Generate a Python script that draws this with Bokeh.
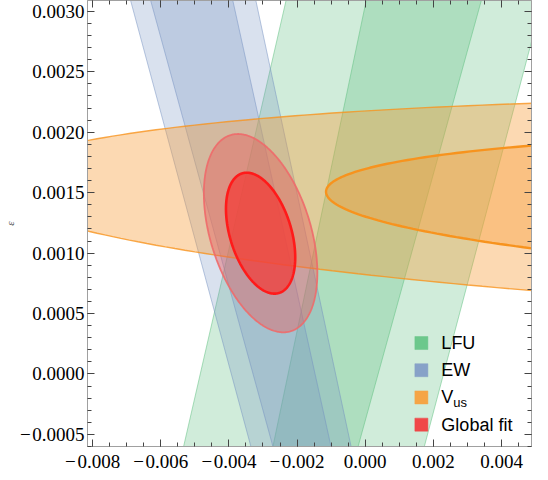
import numpy as np
from bokeh.plotting import figure
from bokeh.models import FixedTicker, CustomJSTickFormatter, LinearAxis, Range1d
from bokeh.core.properties import value
from bokeh.embed import file_html
from bokeh.resources import INLINE

# ---------------- data ----------------
x_lim = (-0.00815, 0.00488)
y_lim = (-0.0006, 0.00309)
x_major = [-0.008, -0.006, -0.004, -0.002, 0.0, 0.002, 0.004]
y_major = [-0.0005, 0.0, 0.0005, 0.0010, 0.0015, 0.0020, 0.0025, 0.0030]

# LFU band (inner 1 sigma, outer 2 sigma): x-centre at y=0, dx/dy, half width at y=0, d(halfwidth)/dy
lfu_center = [-0.000942, -0.001271]
lfu_slope = [0.861, 0.877]
lfu_halfwidth = [0.001321, 0.00357]
lfu_widthslope = [0.119, 0.0623]

# EW band
ew_center = [-0.002382, -0.002399]
ew_slope = [-0.8767, -0.857]
ew_halfwidth = [0.000910, 0.00153]
ew_widthslope = [0.0957, 0.0997]

# V_us ellipse (sheared): centre, semi-axis along x, half-height, shear dy/dx, contour scales
vus_center = [0.02145, 0.001347]
vus_axis_x = 0.0226
vus_axis_y = 0.000625
vus_shear = -0.0071
vus_levels = [1.0, 1.44]

# Global fit: gaussian mean, sigmas, correlation, delta chi^2 levels
gf_mean = [-0.00307, 0.001165]
gf_sigma = [0.00067, 0.00033]
gf_rho = -0.40
gf_dchi2 = [2.30, 6.18]

legend_labels = ["LFU", "EW", "V_us", "Global fit"]
legend_colors = ["#6cc88c", "#87a2c8", "#f5a546", "#f04848"]

# ---------------- figure ----------------
p = figure(width=540, height=474, x_range=Range1d(*x_lim), y_range=Range1d(*y_lim),
           output_backend="svg", toolbar_location=None,
           min_border_left=86, min_border_right=9, min_border_top=0, min_border_bottom=0)
p.xgrid.visible = False
p.ygrid.visible = False
p.outline_line_color = "#a0a0a0"
p.background_fill_color = "white"

t = np.linspace(0, 2 * np.pi, 400)
y_ext = np.array([y_lim[0] - 0.002, y_lim[1] + 0.002])


def band(c0, m, w0, g):
    xc = c0 + m * y_ext
    w = w0 + g * y_ext
    xs = [xc[0] - w[0], xc[1] - w[1], xc[1] + w[1], xc[0] + w[0]]
    ys = [y_ext[0], y_ext[1], y_ext[1], y_ext[0]]
    return xs, ys


def draw_band(cs, ms, ws, gs, color, alpha):
    for i in (1, 0):
        xs, ys = band(cs[i], ms[i], ws[i], gs[i])
        p.patch(xs, ys, fill_color=color, fill_alpha=alpha, line_color=None)
        p.line([xs[0], xs[1]], [ys[0], ys[1]], line_color=color, line_alpha=0.5, line_width=1)
        p.line([xs[2], xs[3]], [ys[2], ys[3]], line_color=color, line_alpha=0.5, line_width=1)


draw_band(lfu_center, lfu_slope, lfu_halfwidth, lfu_widthslope, "#5cbf7e", 0.29)
draw_band(ew_center, ew_slope, ew_halfwidth, ew_widthslope, "#7592c2", 0.28)

# V_us
for i, lw, la in ((1, 1.4, 0.8), (0, 2.4, 1.0)):
    s = vus_levels[i]
    u = vus_axis_x * s * np.cos(t)
    xs = vus_center[0] + u
    ys = vus_center[1] + vus_shear * u + vus_axis_y * s * np.sin(t)
    p.patch(xs, ys, fill_color="#f89a34", fill_alpha=0.38, line_color="#f7931e",
            line_width=lw, line_alpha=la)

# Global fit
L = np.array([[gf_sigma[0], 0.0],
              [gf_rho * gf_sigma[1], gf_sigma[1] * np.sqrt(1 - gf_rho ** 2)]])
circ = np.vstack([np.cos(t), np.sin(t)])
styles = {1: dict(fill_color="#e85a5a", fill_alpha=0.42, line_color="#ee6a6a", line_width=1.8, line_alpha=0.9),
          0: dict(fill_color="#f43a36", fill_alpha=0.72, line_color="#ff1a1a", line_width=2.6, line_alpha=1.0)}
for i in (1, 0):
    pts = L @ circ * np.sqrt(gf_dchi2[i])
    p.patch(gf_mean[0] + pts[0], gf_mean[1] + pts[1], **styles[i])

# ---------------- axes ----------------
x_minor = list(np.round(np.arange(-0.0085, 0.0051, 0.0005), 6))
y_minor = list(np.round(np.arange(-0.0006, 0.0031, 0.0001), 6))

xfmt = CustomJSTickFormatter(code="return (Math.abs(tick)<1e-12?0:tick).toFixed(3).replace('-', '\u2212\u200a');")
yfmt = CustomJSTickFormatter(code="return (Math.abs(tick)<1e-12?0:tick).toFixed(4).replace('-', '\u2212\u200a');")
nofmt = CustomJSTickFormatter(code="return '';")


def style_axis(ax):
    ax.axis_line_color = "#a0a0a0"
    ax.major_tick_in = 7
    ax.major_tick_out = 0
    ax.minor_tick_in = 4
    ax.minor_tick_out = 0
    ax.major_tick_line_color = "#444444"
    ax.minor_tick_line_color = "#444444"
    ax.major_label_text_font = "Liberation Serif"
    ax.major_label_text_font_size = "19px"
    ax.major_label_text_color = "black"


p.xaxis[0].ticker = FixedTicker(ticks=x_major, minor_ticks=x_minor)
p.yaxis[0].ticker = FixedTicker(ticks=y_major, minor_ticks=y_minor)
p.xaxis[0].formatter = xfmt
p.yaxis[0].formatter = yfmt
style_axis(p.xaxis[0])
style_axis(p.yaxis[0])
p.xaxis[0].major_label_standoff = 4
p.yaxis[0].major_label_standoff = 3
p.yaxis[0].axis_label = "ε"
p.yaxis[0].axis_label_text_font = "Liberation Serif"
p.yaxis[0].axis_label_text_font_style = "italic"
p.yaxis[0].axis_label_text_font_size = "11px"
p.yaxis[0].axis_label_standoff = 1

top = LinearAxis(ticker=FixedTicker(ticks=x_major, minor_ticks=x_minor), formatter=nofmt)
right = LinearAxis(ticker=FixedTicker(ticks=y_major, minor_ticks=y_minor), formatter=nofmt)
for ax in (top, right):
    style_axis(ax)
    ax.major_label_standoff = 0
p.add_layout(top, "above")
p.add_layout(right, "right")

# ---------------- legend (drawn in plot) ----------------
xs_span = x_lim[1] - x_lim[0]
ys_span = y_lim[1] - y_lim[0]
sw_x = x_lim[0] + 0.752 * xs_span
tx_x = x_lim[0] + 0.797 * xs_span
row_y = [y_lim[0] + (0.232 - 0.061 * k) * ys_span for k in range(len(legend_labels))]

p.scatter([sw_x] * 4, row_y, marker="square", size=13, fill_color=legend_colors,
          line_color=legend_colors, line_alpha=0.5)
for lab, yy in zip(legend_labels, row_y):
    main, _, sub = lab.partition("_")
    p.text([tx_x], [yy], text=[main], text_baseline="middle", text_align="left",
           text_font=value("Liberation Sans"), text_font_size="18px", text_color="black")
    if sub:
        p.text([tx_x], [yy], text=[sub], text_baseline="middle", text_align="left",
               x_offset=12, y_offset=5,
               text_font=value("Liberation Sans"), text_font_size="13px", text_color="black")

open("out.html", "w").write(file_html(p, INLINE))
